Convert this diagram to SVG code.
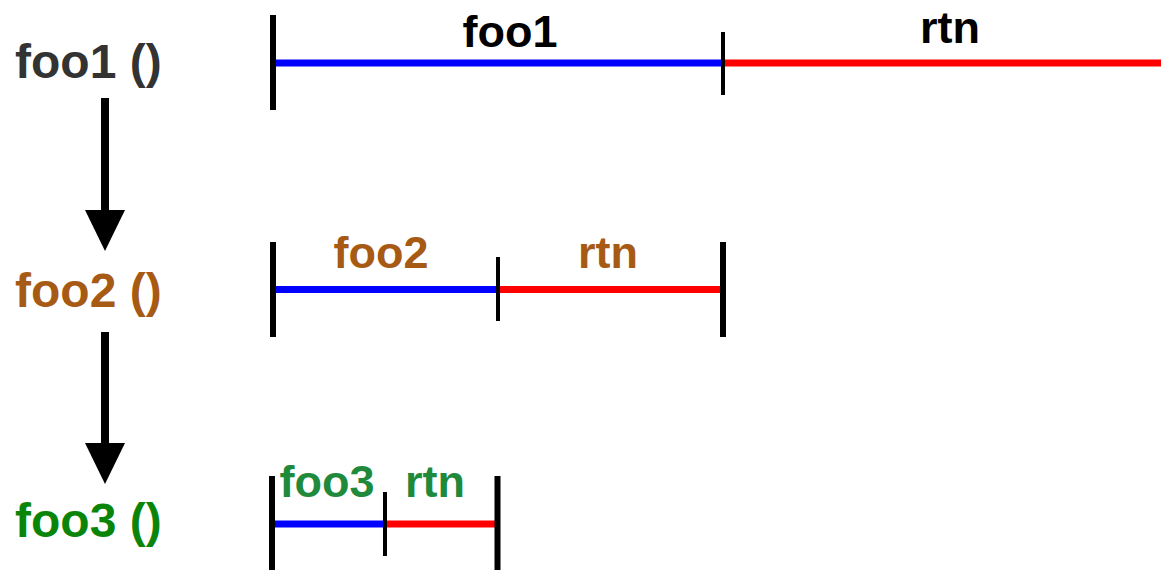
<svg xmlns="http://www.w3.org/2000/svg" width="1161" height="570" viewBox="0 0 1161 570">
  <style>
    text { font-family: "Liberation Sans", Arial, sans-serif; font-weight: bold; }
    .call { font-size: 48px; }
    .seg { font-size: 45px; text-anchor: middle; }
    .c1 { fill: #333333; }
    .c2 { fill: #a65a14; }
    .c3 { fill: #0a850a; }
    .c3b { fill: #1f8a3c; }
    .lbl1 { fill: #000000; }
    .call-seg { stroke: #0000ff; stroke-width: 7; }
    .rtn-seg { stroke: #ff0000; stroke-width: 7; }
    .tick { stroke: #000000; stroke-width: 6; }
    .tick-thin { stroke: #000000; stroke-width: 4; }
    .shaft { stroke: #000000; stroke-width: 8; }
    .head { fill: #000000; }
  </style>

  <!-- call stack labels -->
  <g id="foo1-call"><text class="call c1" x="15" y="78">foo1 ()</text></g>
  <g id="foo2-call"><text class="call c2" x="15" y="307">foo2 ()</text></g>
  <g id="foo3-call"><text class="call c3" x="15" y="537">foo3 ()</text></g>

  <!-- timeline for foo1 -->
  <g id="foo1-timeline">
    <line class="call-seg" x1="273" y1="63" x2="723" y2="63"/>
    <line class="rtn-seg" x1="723" y1="63" x2="1161" y2="63"/>
    <line class="tick" x1="273" y1="15" x2="273" y2="110"/>
    <line class="tick-thin" x1="723" y1="32" x2="723" y2="95"/>
    <text class="seg lbl1" x="510" y="47">foo1</text>
    <text class="seg lbl1" x="950" y="43">rtn</text>
  </g>

  <!-- timeline for foo2 -->
  <g id="foo2-timeline">
    <line class="call-seg" x1="273" y1="289.5" x2="498" y2="289.5"/>
    <line class="rtn-seg" x1="498" y1="289.5" x2="723" y2="289.5"/>
    <line class="tick" x1="273" y1="242" x2="273" y2="337"/>
    <line class="tick-thin" x1="498" y1="257" x2="498" y2="321"/>
    <line class="tick" x1="723" y1="242" x2="723" y2="337"/>
    <text class="seg c2" x="381" y="268">foo2</text>
    <text class="seg c2" x="608" y="268">rtn</text>
  </g>

  <!-- timeline for foo3 -->
  <g id="foo3-timeline">
    <line class="call-seg" x1="272" y1="524" x2="385" y2="524"/>
    <line class="rtn-seg" x1="385" y1="524" x2="497.5" y2="524"/>
    <line class="tick" x1="272" y1="476" x2="272" y2="570"/>
    <line class="tick-thin" x1="385" y1="492" x2="385" y2="556"/>
    <line class="tick" x1="497.5" y1="476" x2="497.5" y2="570"/>
    <text class="seg c3b" x="327" y="497">foo3</text>
    <text class="seg c3b" x="435" y="497">rtn</text>
  </g>

  <!-- call arrows -->
  <g id="connectors">
    <line class="shaft" x1="105" y1="98" x2="105" y2="212"/>
    <path class="head" d="M85,210 L125,210 L105,251 Z"/>
    <line class="shaft" x1="105" y1="332" x2="105" y2="445"/>
    <path class="head" d="M85,443 L125,443 L105,484 Z"/>
  </g>
</svg>
